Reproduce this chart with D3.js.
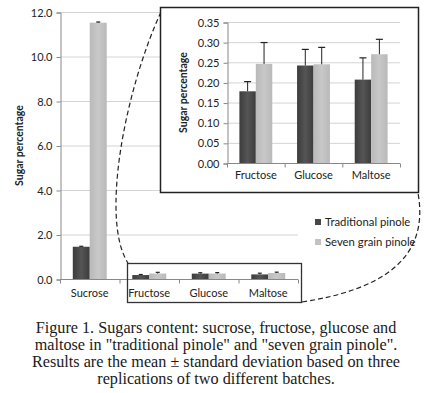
<!DOCTYPE html>
<html>
<head>
<meta charset="utf-8">
<script src="https://cdn.jsdelivr.net/npm/d3@7"></script>
<style>
  body { margin: 0; background: #fff; }
  svg text { font-family: Lato, "Open Sans", sans-serif; fill: #222; }
  .caption { font-family: "Liberation Serif", serif; font-size: 16.2px; fill: #1a1a1a; }
</style>
</head>
<body>
<div id="chart"></div>
<script>
// Data
const series = ['Traditional pinole', 'Seven grain pinole'];
const allSugars = ['Sucrose', 'Fructose', 'Glucose', 'Maltose'];
const traditional = [1.45, 0.178, 0.242, 0.207];
const sevenGrain = [11.52, 0.246, 0.245, 0.270];
const traditionalErr = [0.02, 0.024, 0.040, 0.054];
const sevenGrainErr = [0.03, 0.053, 0.042, 0.037];
const mainTicks = [0, 2, 4, 6, 8, 10, 12];
const insetTicks = [0, 0.05, 0.10, 0.15, 0.20, 0.25, 0.30, 0.35];
const caption = [
    'Figure 1. Sugars content: sucrose, fructose, glucose and',
    'maltose in "traditional pinole" and "seven grain pinole".',
    'Results are the mean \u00b1 standard deviation based on three',
    'replications of two different batches.'
];

const rows = allSugars.map((s, i) => ({
    sugar: s,
    values: [
        { key: series[0], v: traditional[i], e: traditionalErr[i] },
        { key: series[1], v: sevenGrain[i], e: sevenGrainErr[i] }
    ]
}));

const width = 430, height = 393;
const svg = d3.select('#chart').append('svg')
    .attr('width', width).attr('height', height);

// Gradients for the Excel-like bars
const defs = svg.append('defs');
const grad = (id, edge, mid) => {
    const g = defs.append('linearGradient').attr('id', id)
        .attr('x1', 0).attr('x2', 1).attr('y1', 0).attr('y2', 0);
    g.append('stop').attr('offset', '0%').attr('stop-color', edge);
    g.append('stop').attr('offset', '50%').attr('stop-color', mid);
    g.append('stop').attr('offset', '100%').attr('stop-color', edge);
};
grad('darkGrad', '#3c3c3c', '#555555');
grad('lightGrad', '#b9b9b9', '#c8c8c8');
const color = d3.scaleOrdinal().domain(series).range(['url(#darkGrad)', 'url(#lightGrad)']);
const legendColor = d3.scaleOrdinal().domain(series).range(['#474747', '#c2c2c2']);

function barChart(g, data, opts) {
    const x0 = d3.scaleBand().domain(data.map(d => d.sugar))
        .range([opts.left, opts.right]).padding(0);
    const bw = x0.bandwidth();
    const x1 = d3.scaleBand().domain(series).range([bw * 0.215, bw * 0.785]).padding(0);
    const y = d3.scaleLinear().domain([0, opts.max]).range([opts.bottom, opts.top]);

    // gridlines
    g.append('g').selectAll('line').data(opts.ticks.slice(1)).join('line')
        .attr('x1', opts.left).attr('x2', opts.right)
        .attr('y1', d => y(d) + 0.5).attr('y2', d => y(d) + 0.5)
        .attr('stroke', '#d4d4d4');

    // y axis
    const yAxis = g.append('g').attr('transform', `translate(${opts.left + 0.5},0.5)`)
        .call(d3.axisLeft(y).tickValues(opts.ticks).tickFormat(d3.format(opts.fmt)).tickSize(4).tickPadding(4));
    yAxis.select('.domain').attr('stroke', '#888');
    yAxis.selectAll('.tick line').attr('stroke', '#888');
    yAxis.selectAll('text').style('font-size', '11px').attr('fill', '#222');

    // bars
    const groups = g.append('g').selectAll('g').data(data).join('g')
        .attr('transform', d => `translate(${x0(d.sugar)},0)`);
    groups.selectAll('rect').data(d => d.values).join('rect')
        .attr('x', d => x1(d.key)).attr('width', x1.bandwidth())
        .attr('y', d => y(d.v)).attr('height', d => y(0) - y(d.v))
        .attr('fill', d => color(d.key));

    // error bars
    const eb = groups.selectAll('g.err').data(d => d.values).join('g').attr('class', 'err');
    const cx = d => x1(d.key) + x1.bandwidth() / 2;
    eb.append('line').attr('x1', cx).attr('x2', cx)
        .attr('y1', d => y(d.v)).attr('y2', d => y(d.v + d.e))
        .attr('stroke', '#222').attr('stroke-width', 1);
    eb.append('line').attr('x1', d => cx(d) - opts.cap).attr('x2', d => cx(d) + opts.cap)
        .attr('y1', d => y(d.v + d.e)).attr('y2', d => y(d.v + d.e))
        .attr('stroke', '#222').attr('stroke-width', 1.2);

    // x axis: tick marks at category boundaries
    const xAxis = g.append('g').attr('transform', `translate(0,${opts.bottom + 0.5})`);
    xAxis.append('line').attr('x1', opts.left).attr('x2', opts.right).attr('stroke', '#888');
    const bounds = data.map(d => x0(d.sugar)).concat([opts.right]);
    xAxis.selectAll('line.t').data(bounds).join('line').attr('class', 't')
        .attr('x1', d => d + 0.5).attr('x2', d => d + 0.5).attr('y1', 0).attr('y2', 4)
        .attr('stroke', '#888');
    xAxis.selectAll('text').data(data).join('text')
        .attr('x', d => x0(d.sugar) + bw / 2).attr('y', opts.labelY)
        .attr('text-anchor', 'middle').style('font-size', '11px')
        .text(d => d.sugar);

    // y title
    g.append('text')
        .attr('transform', `translate(${opts.titleX},${(opts.top + opts.bottom) / 2}) rotate(-90)`)
        .attr('text-anchor', 'middle').attr('dy', '0.35em')
        .style('font-size', '10.5px').style('font-weight', 'bold')
        .text('Sugar percentage');
    return { x0, y };
}

// Main chart
const main = svg.append('g');
barChart(main, rows, {
    left: 60, right: 298, top: 12, bottom: 279, max: 12,
    ticks: mainTicks, fmt: '.1f', cap: 2, labelY: 17, titleX: 19
});

// Legend
const legend = svg.append('g').attr('transform', 'translate(315,0)');
const li = legend.selectAll('g').data(series).join('g')
    .attr('transform', (d, i) => `translate(0,${222 + i * 20})`);
li.append('rect').attr('x', 0).attr('y', -3).attr('width', 6).attr('height', 6)
    .attr('fill', d => legendColor(d));
li.append('text').attr('x', 10).attr('dy', '0.35em').style('font-size', '11.3px').text(d => d);

// Zoom box around the small sugars
svg.append('rect').attr('x', 127.5).attr('y', 263.5).attr('width', 174).attr('height', 39)
    .attr('fill', 'none').attr('stroke', '#333').attr('stroke-width', 1.3);

// Dashed connectors
svg.append('path').attr('d', 'M161,12 C125,90 100,220 128,263')
    .attr('fill', 'none').attr('stroke', '#222').attr('stroke-width', 1.2).attr('stroke-dasharray', '5,3');
svg.append('path').attr('d', 'M302,302 C380,290 430,260 418,193')
    .attr('fill', 'none').attr('stroke', '#222').attr('stroke-width', 1.2).attr('stroke-dasharray', '5,3');

// Inset chart
const inset = svg.append('g');
inset.append('rect').attr('x', 160.5).attr('y', 7.5).attr('width', 258).attr('height', 185)
    .attr('fill', '#fff').attr('stroke', '#222').attr('stroke-width', 1.5);
barChart(inset, rows.slice(1), {
    left: 227, right: 400, top: 22, bottom: 163, max: 0.35,
    ticks: insetTicks, fmt: '.2f', cap: 3.5, labelY: 15, titleX: 183
});

// Caption
svg.append('g').selectAll('text').data(caption).join('text')
    .attr('class', 'caption')
    .attr('x', 216).attr('y', (d, i) => 333 + i * 17)
    .attr('text-anchor', 'middle')
    .text(d => d);
</script>
</body>
</html>
